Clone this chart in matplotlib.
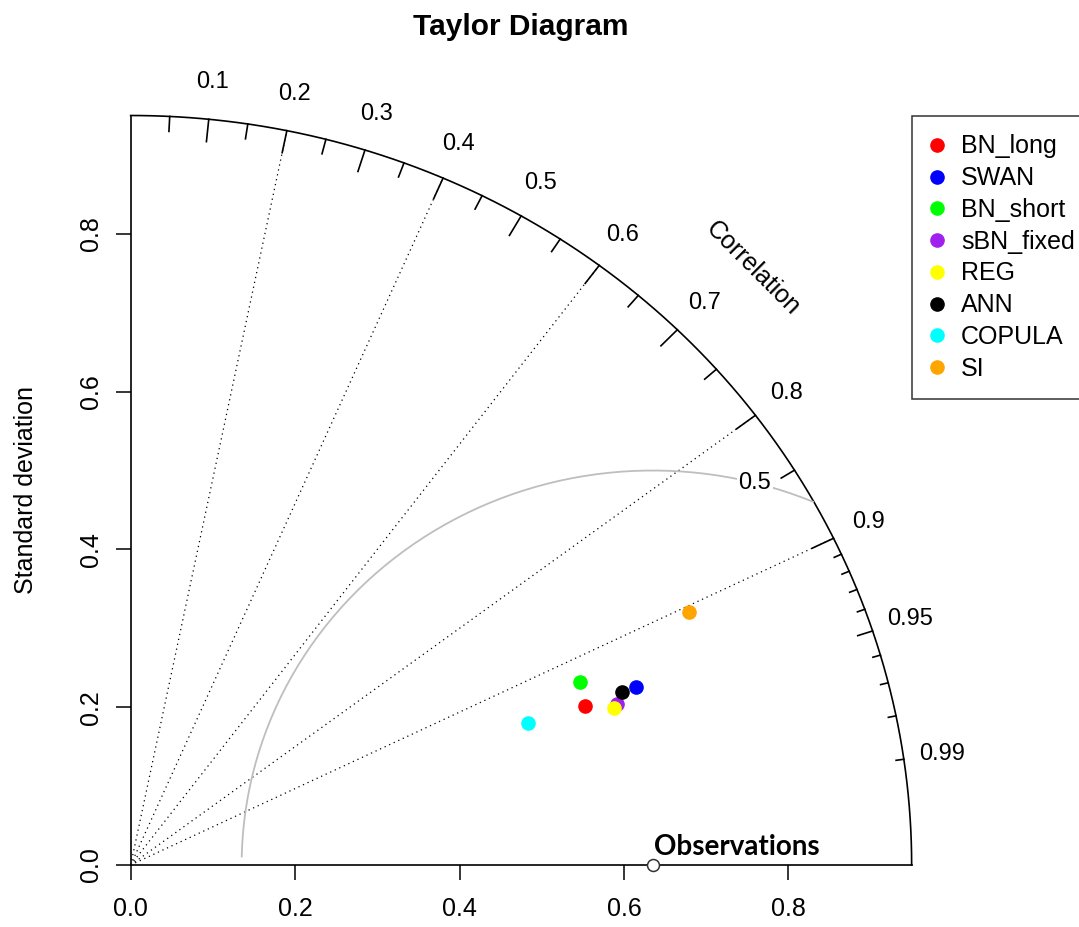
import numpy as np
import matplotlib.pyplot as plt

plt.rcParams['font.family'] = ['Liberation Sans', 'DejaVu Sans']

# model statistics
models = ['BN_long', 'SWAN', 'BN_short', 'sBN_fixed', 'REG', 'ANN', 'COPULA', 'SI']
colors = ['#FF0000', '#0000FF', '#00FF00', '#A020F0', '#FFFF00', '#000000', '#00FFFF', '#FFA500']
model_sd = [0.588, 0.655, 0.594, 0.626, 0.621, 0.636, 0.516, 0.751]
model_cor = [0.9395, 0.9387, 0.9205, 0.9451, 0.9470, 0.9390, 0.9376, 0.9043]
obs_sd = 0.635
max_sd = 0.95
rms_levels = [0.5]

grid_cors = [0.2, 0.4, 0.6, 0.8, 0.9]
big_ticks = [0.1, 0.2, 0.3, 0.4, 0.5, 0.6, 0.7, 0.8, 0.9]
med_ticks = [0.05, 0.15, 0.25, 0.35, 0.45, 0.55, 0.65, 0.75, 0.85, 0.95]
small_ticks = [0.91, 0.92, 0.93, 0.94, 0.96, 0.97, 0.98, 0.99]
cor_labels = ['0.1', '0.2', '0.3', '0.4', '0.5', '0.6', '0.7', '0.8', '0.9', '0.95', '0.99']
sd_ticks = [0.0, 0.2, 0.4, 0.6, 0.8]

fig = plt.figure(figsize=(10.79, 9.27), dpi=100)
ax = fig.add_axes([0.1211, 0.0669, 0.7238, 0.8085])
ax.set_xlim(0, max_sd)
ax.set_ylim(0, max_sd)

# outer arc
th = np.linspace(0, np.pi / 2, 400)
ax.plot(max_sd * np.cos(th), max_sd * np.sin(th), color='black', lw=1.2, clip_on=False)

# correlation grid lines
for c in grid_cors:
    ax.plot([0, max_sd * c], [0, max_sd * np.sqrt(1 - c ** 2)], color='black',
            lw=0.9, linestyle=(0, (1, 3)), clip_on=False)

# ticks on the arc
def arc_ticks(vals, frac):
    for c in vals:
        s = np.sqrt(1 - c ** 2)
        ax.plot([c * max_sd, c * frac * max_sd], [s * max_sd, s * frac * max_sd],
                color='black', lw=1.2, clip_on=False)

arc_ticks(big_ticks, 0.97)
arc_ticks(med_ticks, 0.98)
arc_ticks(small_ticks, 0.99)

for lab in cor_labels:
    c = float(lab)
    ax.text(c * 1.05 * max_sd, np.sqrt(1 - c ** 2) * 1.05 * max_sd, lab,
            ha='center', va='center', fontsize=17)

ax.text(0.757, 0.757, 'Correlation', rotation=-45, ha='center', va='center',
        fontsize=18, rotation_mode='anchor')

# centred RMS arcs
ang = np.arange(0, np.pi, 0.03)
for g in rms_levels:
    xc = obs_sd + g * np.cos(ang)
    yc = g * np.sin(ang)
    inside = xc ** 2 + yc ** 2 < max_sd ** 2
    ax.plot(xc[inside], yc[inside], color='#BEBEBE', lw=1.3, clip_on=False)
    a = np.radians(75.6)
    ax.text(obs_sd + g * np.cos(a), g * np.sin(a), '%g' % g, ha='center', va='center',
            fontsize=17, bbox=dict(facecolor='white', edgecolor='none', pad=1))

# models
for name, col, s, c in zip(models, colors, model_sd, model_cor):
    ax.plot(s * c, s * np.sqrt(1 - c ** 2), 'o', color=col, markersize=9.5,
            label=name, clip_on=False)

# observation
ax.plot(obs_sd, 0, 'o', markerfacecolor='white', markeredgecolor='#333333',
        markersize=8.6, mew=1.1, clip_on=False, zorder=5)
ax.text(obs_sd + 0.001, 0.0127, 'Observations', fontsize=20, fontweight='bold',
        family='Lato', ha='left', va='baseline')

# axes
for side in ['top', 'right']:
    ax.spines[side].set_visible(False)
for side in ['left', 'bottom']:
    ax.spines[side].set_linewidth(1.2)
ax.set_xticks(sd_ticks)
ax.set_yticks(sd_ticks)
ax.set_xticklabels(['%.1f' % v for v in sd_ticks])
ax.set_yticklabels(['%.1f' % v for v in sd_ticks])
ax.tick_params(direction='out', length=11, width=1.1, labelsize=18)
ax.tick_params(axis='x', pad=12)
ax.tick_params(axis='y', pad=9)
plt.setp(ax.get_yticklabels(), rotation=90, va='center')

ax.set_ylabel('Standard deviation', fontsize=18, va='center')
ax.yaxis.set_label_coords((26 - 130.7) / 781, 0.5)
ax.set_title('Taylor Diagram', fontsize=21.5, fontweight='bold', pad=0,
             y=(865 - 35) / 749.5, va='baseline')

leg = ax.legend(loc='upper left', bbox_to_anchor=(911.7 / 1079, 1 - 116 / 927),
                bbox_transform=fig.transFigure, fontsize=18, frameon=True,
                fancybox=False, edgecolor='black', borderpad=0.74, labelspacing=0.31,
                handlelength=0.56, handletextpad=0.68, borderaxespad=0)
leg.get_frame().set_linewidth(1.1)
for h in leg.legend_handles:
    h.set_markersize(9.5)

fig.savefig('out.png', dpi=100)
